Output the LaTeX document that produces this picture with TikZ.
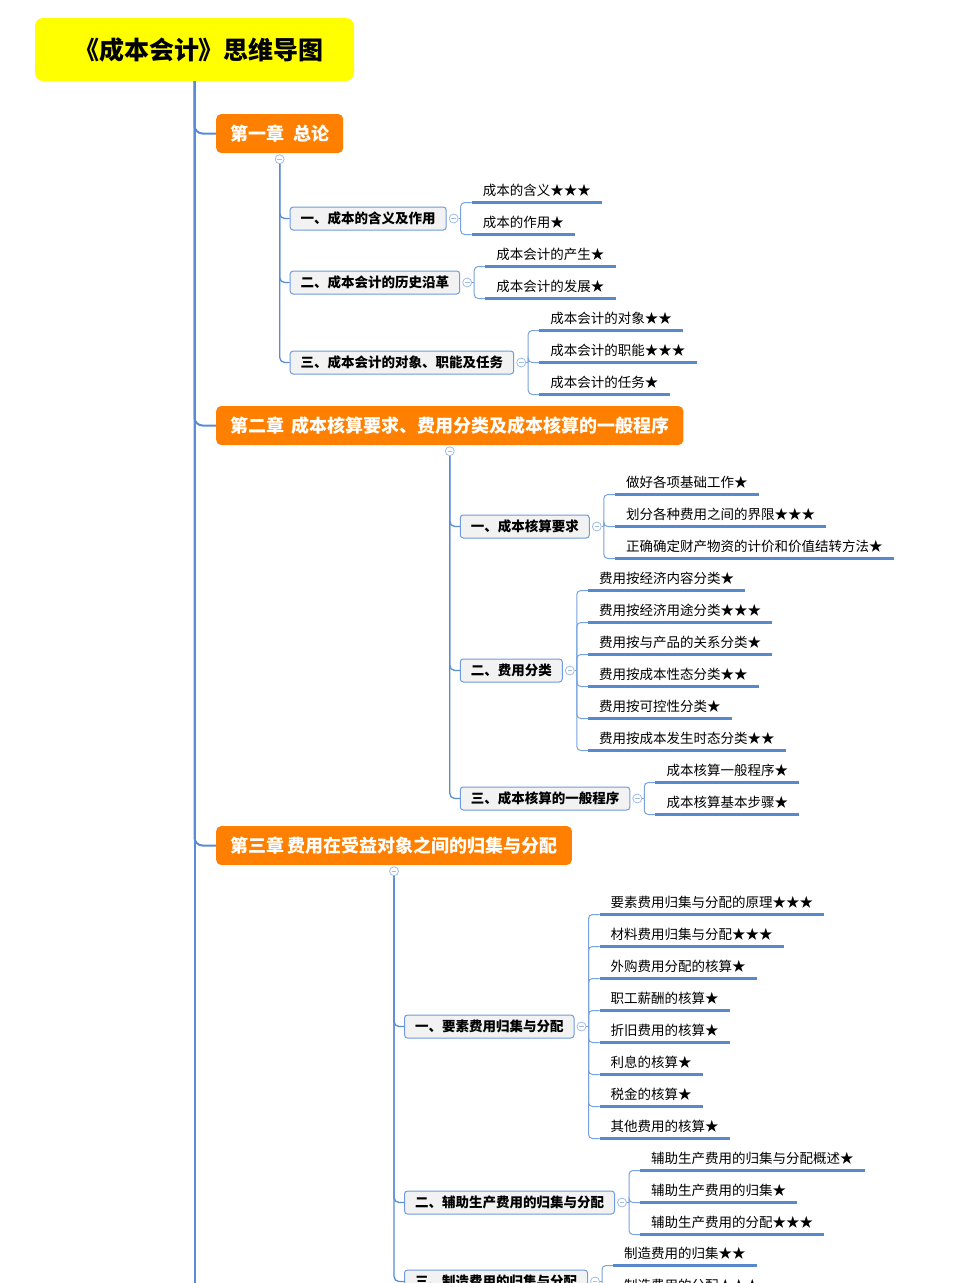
\documentclass[tikz,border=0pt]{standalone}
\usepackage{fontspec}
\setmainfont{Noto Sans CJK SC}
\usetikzlibrary{calc}
\definecolor{trunkc}{RGB}{88,140,214}
\definecolor{brkc}{RGB}{120,162,222}
\definecolor{ulc}{RGB}{88,137,206}
\definecolor{togc}{RGB}{160,188,232}
\definecolor{secfill}{RGB}{242,242,242}
\definecolor{secdraw}{RGB}{110,156,220}
\definecolor{chapc}{RGB}{255,128,0}
\definecolor{rootc}{RGB}{255,255,0}
\tikzset{
  rootbox/.style={fill=rootc, rounded corners=8pt, minimum width=319pt, minimum height=63pt, inner sep=0pt, font=\fontsize{25}{29}\selectfont\bfseries},
  chap/.style={fill=chapc, text=white, rounded corners=5pt, minimum height=39pt, inner xsep=14pt, inner ysep=0pt, font=\fontsize{18}{21}\selectfont\bfseries},
  sec/.style={draw=secdraw, fill=secfill, line width=1pt, rounded corners=3pt, minimum height=23pt, inner xsep=10.5pt, inner ysep=0pt, font=\fontsize{13.5}{16}\selectfont\bfseries},
  leaf/.style={inner xsep=11pt, inner ysep=7pt, text depth=0pt, font=\fontsize{13.5}{16}\selectfont},
  trunk/.style={draw=trunkc, line width=2pt},
  sub/.style={draw=trunkc, line width=1.3pt},
  brk/.style={draw=brkc, line width=1pt},
  ul/.style={draw=ulc, line width=2.6pt},
  tog/.style={circle, draw=togc, fill=white, line width=0.8pt, minimum size=9pt, inner sep=0pt,
    path picture={\draw[togc, line width=0.8pt] ($(path picture bounding box.west)+(2.2,0)$) -- ($(path picture bounding box.east)+(-2.2,0)$);}}
}
\newcommand\leafgroup[3]{%
  \node[tog] (#1t) at ($(#1.east)+(7,0)$) {};
  \coordinate (#1b) at ($(#1t)+(7,0)$);
  \draw[brk] (#1t.east) -- (#1b);
  \foreach \txt [count=\i] in {#3} {
    \pgfmathsetmacro\dy{32*(\i-1-(#2-1)/2)}
    \node[leaf, anchor=south west] (#1l\i) at ($(#1b)+(11,\dy)$) {\txt};
    \draw[brk, rounded corners=4pt] (#1b) |- (#1l\i.south west);
    \draw[ul] (#1l\i.south west) -- (#1l\i.south east);
  }
}
\begin{document}
\begin{tikzpicture}[x=1pt,y=-1pt]
\useasboundingbox (0,0) rectangle (964,1283);
\fill[white] (0,0) rectangle (964,1283);
\clip (0,0) rectangle (964,1283);

% root
\node[rootbox] (root) at (194.5,49.5) {\hspace{9pt}《成本会计》思维导图};
\coordinate (trunkend) at (194.5,1300);
\draw[trunk] (root.south) -- (trunkend);

% chapters
\node[chap, anchor=west] (ch1) at (216,133.5) {第一章\hspace{0.5em}总论};
\node[chap, anchor=west] (ch2) at (216,425.5) {第二章\hspace{0.4em}成本核算要求、费用分类及成本核算的一般程序};
\node[chap, anchor=west] (ch3) at (216,845.5) {第三章\hspace{0.2em}费用在受益对象之间的归集与分配};
\foreach \c in {ch1,ch2,ch3} {
  \draw[trunk, rounded corners=8pt] (root.south) |- (\c.west);
  \node[tog] (\c t) at ($(\c.south)+(0,6)$) {};
}

% chapter 1 sections
\node[sec, anchor=west] (s11) at ($(ch1t.center |- 0,218.5)+(10,0)$) {一、成本的含义及作用};
\node[sec, anchor=west] (s12) at ($(ch1t.center |- 0,282.5)+(10,0)$) {二、成本会计的历史沿革};
\node[sec, anchor=west] (s13) at ($(ch1t.center |- 0,362.5)+(10,0)$) {三、成本会计的对象、职能及任务};
\foreach \s in {s11,s12,s13} \draw[sub, rounded corners=5pt] (ch1t.south) |- (\s.west);

% chapter 2 sections
\node[sec, anchor=west] (s21) at ($(ch2t.center |- 0,526.5)+(10,0)$) {一、成本核算要求};
\node[sec, anchor=west] (s22) at ($(ch2t.center |- 0,670.5)+(10,0)$) {二、费用分类};
\node[sec, anchor=west] (s23) at ($(ch2t.center |- 0,798.5)+(10,0)$) {三、成本核算的一般程序};
\foreach \s in {s21,s22,s23} \draw[sub, rounded corners=5pt] (ch2t.south) |- (\s.west);

% chapter 3 sections
\node[sec, anchor=west] (s31) at ($(ch3t.center |- 0,1026.5)+(10,0)$) {一、要素费用归集与分配};
\node[sec, anchor=west] (s32) at ($(ch3t.center |- 0,1202.5)+(10,0)$) {二、辅助生产费用的归集与分配};
\node[sec, anchor=west] (s33) at ($(ch3t.center |- 0,1281.5)+(10,0)$) {三、制造费用的归集与分配};
\foreach \s in {s31,s32,s33} \draw[sub, rounded corners=5pt] (ch3t.south) |- (\s.west);

% leaves
\leafgroup{s11}{2}{成本的含义★★★,成本的作用★}
\leafgroup{s12}{2}{成本会计的产生★,成本会计的发展★}
\leafgroup{s13}{3}{成本会计的对象★★,成本会计的职能★★★,成本会计的任务★}
\leafgroup{s21}{3}{做好各项基础工作★,划分各种费用之间的界限★★★,正确确定财产物资的计价和价值结转方法★}
\leafgroup{s22}{6}{费用按经济内容分类★,费用按经济用途分类★★★,费用按与产品的关系分类★,费用按成本性态分类★★,费用按可控性分类★,费用按成本发生时态分类★★}
\leafgroup{s23}{2}{成本核算一般程序★,成本核算基本步骤★}
\leafgroup{s31}{8}{要素费用归集与分配的原理★★★,材料费用归集与分配★★★,外购费用分配的核算★,职工薪酬的核算★,折旧费用的核算★,利息的核算★,税金的核算★,其他费用的核算★}
\leafgroup{s32}{3}{辅助生产费用的归集与分配概述★,辅助生产费用的归集★,辅助生产费用的分配★★★}
\leafgroup{s33}{2}{制造费用的归集★★,制造费用的分配★★★}
\end{tikzpicture}
\end{document}
